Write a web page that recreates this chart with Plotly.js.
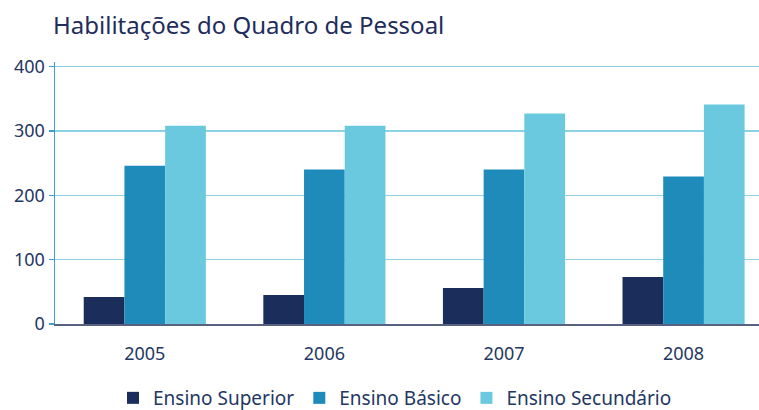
<!DOCTYPE html>
<html>
<head>
<meta charset="utf-8">
<script src="https://cdn.plot.ly/plotly-3.0.1.min.js"></script>
<style>html,body{margin:0;padding:0;background:#fff;}#chart{width:759px;height:410px;}</style>
</head>
<body>
<div id="chart"></div>
<script>
const years = ["2005", "2006", "2007", "2008"];
const seriesNames = ["Ensino Superior", "Ensino Básico", "Ensino Secundário"];
const ensinoSuperior = [42, 45, 56, 73];
const ensinoBasico = [246, 240, 240, 229];
const ensinoSecundario = [308, 308, 327, 341];
const yTicks = [0, 100, 200, 300, 400];

const colors = ["#1b2d5b", "#1f8bbb", "#6bc9df"];
const values = [ensinoSuperior, ensinoBasico, ensinoSecundario];
const fontFam = "Noto Sans, sans-serif";
const navy = "#243763";

const data = values.map((v, i) => ({
  type: "bar",
  name: seriesNames[i],
  x: years,
  y: v,
  marker: {color: colors[i], line: {width: 0}},
  hoverinfo: "x+y+name"
}));

const layout = {
  width: 759, height: 410,
  margin: {l: 55, r: 0, t: 62, b: 86, autoexpand: false},
  paper_bgcolor: "#fff", plot_bgcolor: "#fff",
  barmode: "group", bargap: 0.32, bargroupgap: 0,
  font: {family: fontFam, color: navy},
  title: {
    text: "Habilitações do Quadro de Pessoal",
    x: 53/759, xanchor: "left", xref: "container",
    y: 1 - 26/410, yanchor: "middle", yref: "container",
    font: {family: fontFam, size: 24, color: "#1e2d5c"}
  },
  xaxis: {
    type: "category",
    range: [-0.5, 3.42],
    showgrid: false,
    showline: true, linecolor: "#56627f", linewidth: 2,
    ticks: "", tickfont: {size: 18, color: navy},
    ticklabelstandoff: 12,
    zeroline: false
  },
  yaxis: {
    range: [0, 407],
    tickvals: yTicks,
    ticktext: yTicks.map(String),
    showgrid: true, gridcolor: "#8dd2e3", gridwidth: 1.5,
    showline: true, linecolor: "#3f9fc8", linewidth: 1.5,
    ticks: "outside", ticklen: 5, tickcolor: "#3f9fc8", tickwidth: 1.5,
    tickfont: {size: 18, color: navy},
    zeroline: false
  },
  legend: {
    orientation: "h",
    xref: "container", x: 113/759, xanchor: "left",
    yref: "container", y: 1 - 398/410, yanchor: "middle",
    font: {size: 19, color: navy},
    itemwidth: 30,
    traceorder: "normal"
  },
  showlegend: true
};

Plotly.newPlot("chart", data, layout, {displayModeBar: false, staticPlot: true});
</script>
</body>
</html>
